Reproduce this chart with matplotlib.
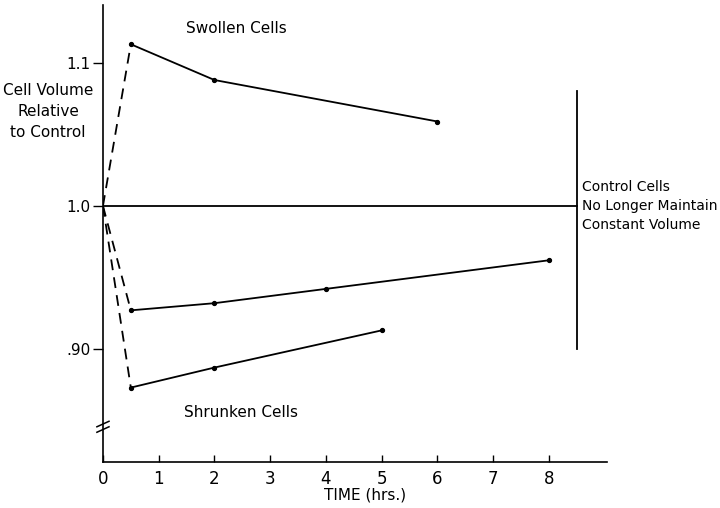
import matplotlib
matplotlib.use("Agg")
import matplotlib.pyplot as plt

# Swollen cells (hours, relative volume)
swollen_t = [0.5, 2, 6]
swollen_v = [1.113, 1.088, 1.059]

# Shrunken cells, upper curve
shrunk_a_t = [0.5, 2, 4, 8]
shrunk_a_v = [0.927, 0.932, 0.942, 0.962]

# Shrunken cells, lower curve
shrunk_b_t = [0.5, 2, 5]
shrunk_b_v = [0.873, 0.887, 0.913]

# Control level and the time it stops being held
control_v = 1.0
control_end = 8.5
control_bar = [0.90, 1.08]

x_ticks = [0, 1, 2, 3, 4, 5, 6, 7, 8]
y_ticks = [0.90, 1.0, 1.1]
y_tick_labels = [".90", "1.0", "1.1"]

plt.rcParams['font.family'] = ['DejaVu Sans']

fig = plt.figure(figsize=(7.2, 5.08), dpi=100)
ax = fig.add_axes([0.143, 0.0906, 0.700, 0.900])

lw = 1.3
for t, v in [(swollen_t, swollen_v), (shrunk_a_t, shrunk_a_v), (shrunk_b_t, shrunk_b_v)]:
    ax.plot(t, v, color='black', lw=lw, marker='o', ms=2.8)
    # dashed jump from the origin to the first measurement
    ax.plot([0, t[0]], [control_v, v[0]], color='black', lw=lw, ls=(0, (6, 4)))

ax.plot([0, control_end], [control_v, control_v], color='black', lw=lw)
ax.plot([control_end, control_end], control_bar, color='black', lw=lw)

ax.set_xlim(0, 9.04)
ax.set_ylim(0.821, 1.1406)

ax.spines['top'].set_visible(False)
ax.spines['right'].set_visible(False)
ax.spines['left'].set_linewidth(1.2)
ax.spines['bottom'].set_linewidth(1.2)

ax.set_xticks(x_ticks)
ax.set_xticklabels([str(x) for x in x_ticks], fontsize=12)
ax.tick_params(axis='x', direction='in', length=5, width=1, pad=6)
ax.set_yticks(y_ticks)
ax.set_yticklabels(y_tick_labels, fontsize=11)
ax.tick_params(axis='y', direction='out', length=7, width=1, pad=2)

# axis break on the y axis
for dy in (0.0, 0.012):
    ax.plot([-0.012, 0.012], [0.065 + dy, 0.077 + dy], transform=ax.transAxes,
            color='black', lw=1.1, clip_on=False)

ax.set_xlabel("TIME (hrs.)", fontsize=11, labelpad=4)
ax.xaxis.set_label_coords(0.52, -0.055)

ax.text(2.4, 1.124, "Swollen Cells", fontsize=11, ha='center', va='center')
ax.text(2.47, 0.8557, "Shrunken Cells", fontsize=11, ha='center', va='center')
fig.text(0.067, 0.78, "Cell Volume\nRelative\nto Control", fontsize=11,
         ha='center', va='center', linespacing=1.5)
ax.text(control_end + 0.1, control_v, "Control Cells\nNo Longer Maintain\nConstant Volume",
        fontsize=10, ha='left', va='center', linespacing=1.45, clip_on=False)

fig.savefig("out.png", dpi=100)
